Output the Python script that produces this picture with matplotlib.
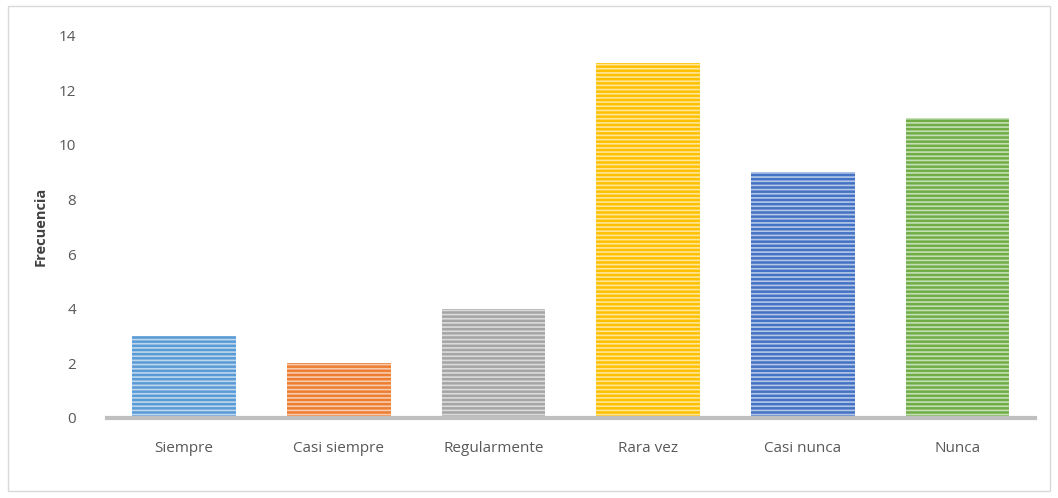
import matplotlib.pyplot as plt
from matplotlib.patches import Rectangle

categorias = ['Siempre', 'Casi siempre', 'Regularmente', 'Rara vez', 'Casi nunca', 'Nunca']
frecuencia = [3, 2, 4, 13, 9, 11]
colores = ['#5b9bd5', '#ed7d31', '#a5a5a5', '#ffc000', '#4472c4', '#70ad47']
rayas = ['#bdd7ee', '#f8cbad', '#dbdbdb', '#ffe699', '#b4c7e7', '#c5e0b4']

plt.rcParams['font.family'] = ['Open Sans', 'DejaVu Sans']
plt.rcParams['hatch.linewidth'] = 1.2

fig = plt.figure(figsize=(10.58, 4.98), dpi=100)
fig.patches.append(Rectangle((0.008, 0.014), 0.984, 0.974, transform=fig.transFigure,
                             fill=False, edgecolor='#d9d9d9', linewidth=1))
ax = fig.add_axes([0.101, 0.161, 0.877, 0.767])

x = range(len(categorias))
ax.bar(x, frecuencia, width=0.67, color=colores, linewidth=0, zorder=2)
for xi, v, c in zip(x, frecuencia, rayas):
    ax.bar(xi, v, width=0.67, facecolor='none', edgecolor=c, hatch='----',
           linewidth=0, zorder=3)

ax.set_xlim(-0.5, len(categorias) - 0.5)
ax.set_ylim(0, 14)
ax.set_yticks(range(0, 15, 2))
ax.set_xticks(list(x))
ax.set_xticklabels(categorias)

for s in ['top', 'right', 'left']:
    ax.spines[s].set_visible(False)
ax.spines['bottom'].set_color('#bfbfbf')
ax.spines['bottom'].set_linewidth(3)
ax.spines['bottom'].set_zorder(4)
ax.tick_params(axis='both', length=0, labelsize=11, colors='#595959')
ax.tick_params(axis='x', pad=17)
ax.tick_params(axis='y', pad=22)
ax.set_ylabel('Frecuencia', fontsize=10.5, fontweight='bold', color='#404040', labelpad=8)

plt.savefig('out.png', dpi=100)
